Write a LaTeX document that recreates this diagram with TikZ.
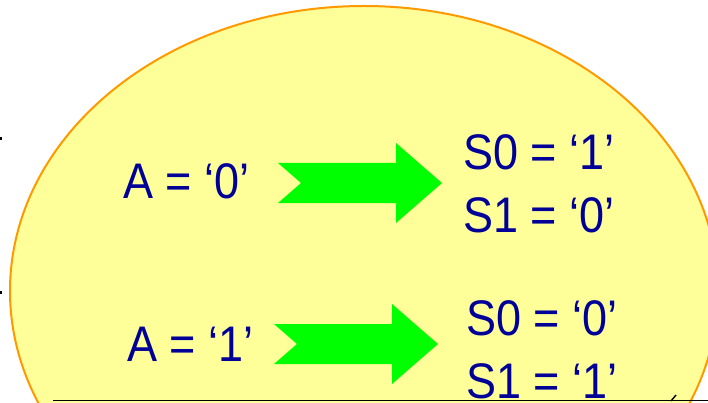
\documentclass[tikz,border=0pt]{standalone}
\usepackage{fontspec}
\newfontfamily\slidefont[FakeStretch=0.9]{Liberation Sans}
\usetikzlibrary{positioning, calc}

\definecolor{slideblue}{RGB}{0,0,153}
\definecolor{slideyellow}{RGB}{255,255,153}
\definecolor{slideorange}{RGB}{255,153,0}
\definecolor{slidegreen}{RGB}{0,255,0}

\begin{document}
\begin{tikzpicture}[
    x=1pt, y=-1pt,
    % Estilos
    bubble/.style={draw=slideorange, fill=slideyellow, line width=2pt},
    slidetext/.style={font=\slidefont\fontsize{50}{60}\selectfont, text=slideblue, inner sep=0pt, anchor=base west},
    blockarrow/.style={fill=slidegreen},
    cutline/.style={draw=black, line width=1.8pt}
]

\useasboundingbox (0,0) rectangle (708,403);
\clip (0,0) rectangle (708,403);

% -------------------------
% Fondo (elipse)
% -------------------------
\draw[bubble] (364,291) ellipse [x radius=354, y radius=285];

% restos del texto de la diapositiva
\fill[black] (0,137.5) rectangle (2,140.5);
\fill[black] (0,290.5) rectangle (2,293.5);
\draw[black, line width=1.4pt] (671,401) -- (676,395);

% -------------------------
% Entradas
% -------------------------
\node[slidetext] (a0) at (123,198) {A = ‘0’};
\node[slidetext] (a1) at (127,361) {A = ‘1’};

% -------------------------
% Salidas
% -------------------------
\node[slidetext] (s0a) at (463,170) {S0 = ‘1’};
\node[slidetext] (s1a) at ($(s0a.base west)+(0,62)$) {S1 = ‘0’};

\node[slidetext] (s0b) at (466,335) {S0 = ‘0’};
\node[slidetext] (s1b) at ($(s0b.base west)+(0,63)$) {S1 = ‘1’};

% -------------------------
% Flechas verdes
% -------------------------
\coordinate (arr0) at (278,183);
\coordinate (arr1) at (274,344);
\foreach \c in {arr0, arr1} {
    \fill[blockarrow] (\c) ++(0,-20) -- ++(118,0) -- ++(0,-20) -- ++(46,40)
        -- ++(-46,40) -- ++(0,-20) -- ++(-118,0) -- ++(23,-20) -- cycle;
}

% linea inferior
\coordinate (cutl) at (53,400.5);
\coordinate (cutr) at (710,400.5);
\draw[cutline] (cutl) -- (cutr);

\end{tikzpicture}
\end{document}
